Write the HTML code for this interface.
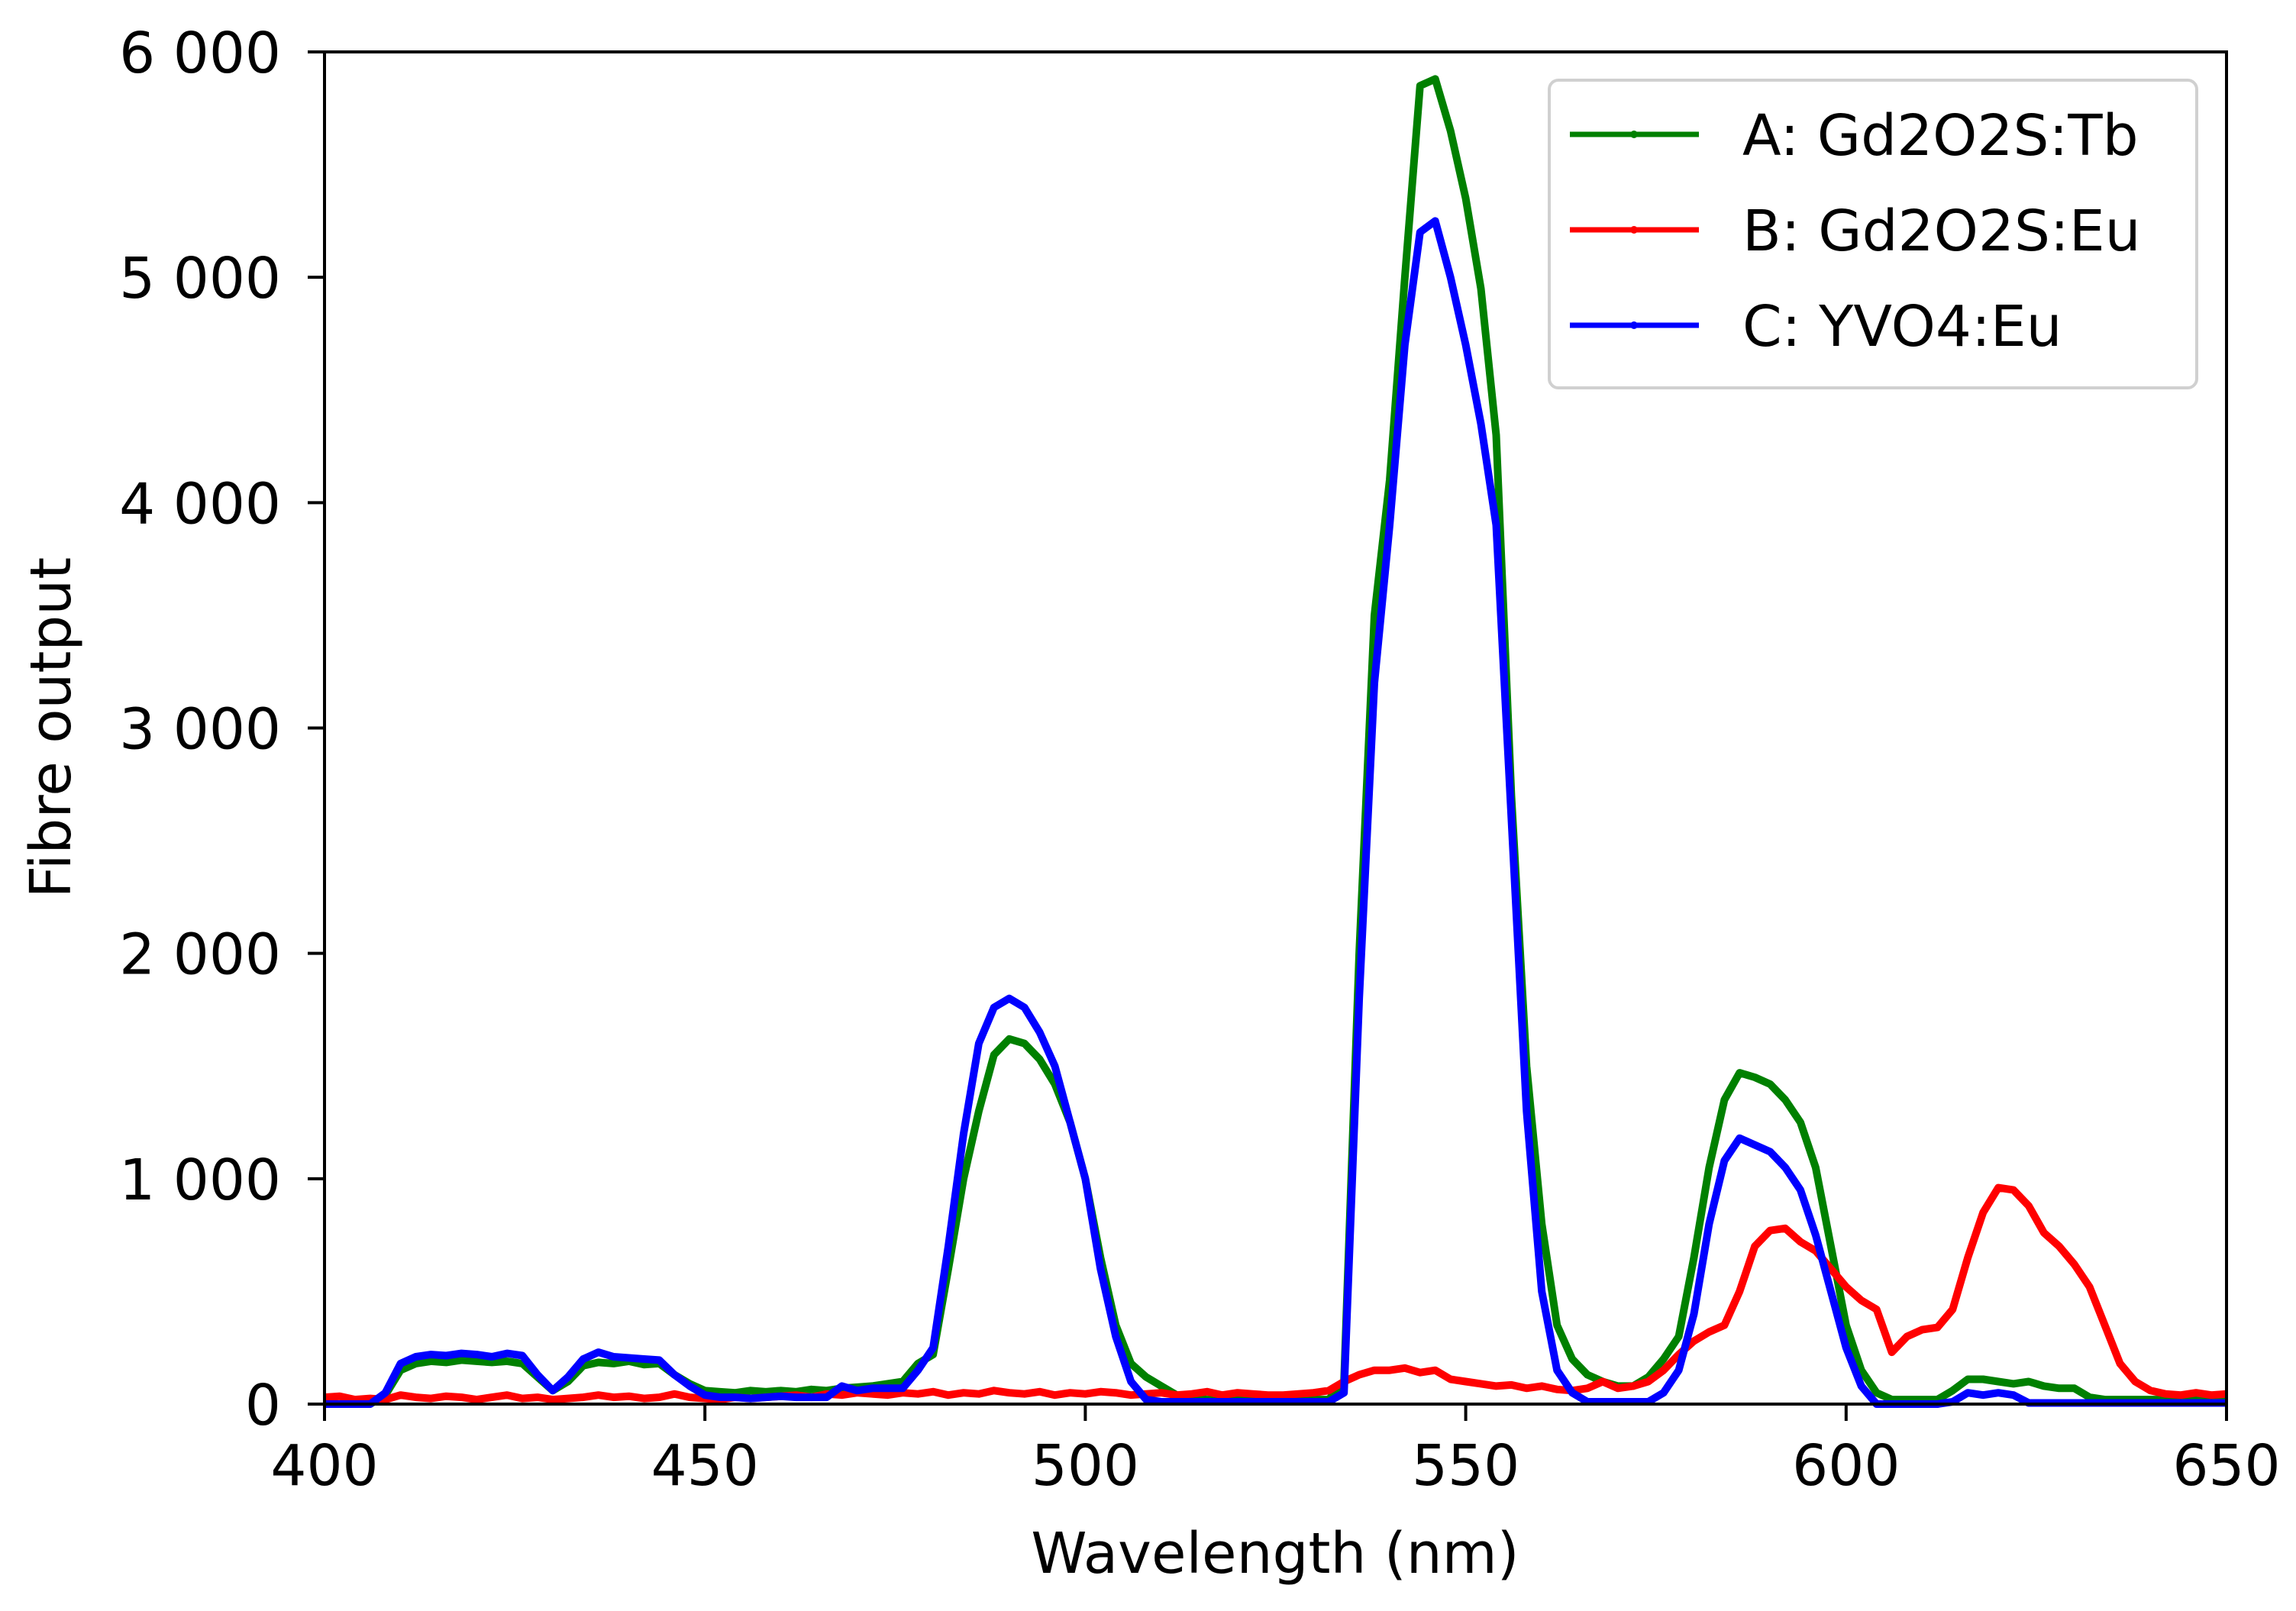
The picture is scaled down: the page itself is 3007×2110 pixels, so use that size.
<!DOCTYPE html>
<html><head><meta charset="utf-8"><style>
html,body{margin:0;padding:0;background:#fff;}
svg{display:block;font-family:"DejaVu Sans","Liberation Sans",sans-serif;}
</style></head><body>
<svg id="chart" width="3007" height="2110" viewBox="0 0 3007 2110" xmlns="http://www.w3.org/2000/svg">
<rect width="3007" height="2110" fill="#fff"/>
<g id="series"></g>
<g id="axes"></g>
<text x="1670" y="2060" font-size="74" text-anchor="middle">Wavelength (nm)</text>
<text transform="translate(92,953) rotate(-90)" font-size="74" text-anchor="middle">Fibre output</text>
<g>
<rect x="2029" y="105" width="848" height="403" rx="12" fill="#fff" fill-opacity="0.8" stroke="#d0d0d0" stroke-width="4"/>
<g><line x1="2056" y1="176" x2="2225" y2="176" stroke="#008000" stroke-width="7"/><circle cx="2140" cy="176" r="5" fill="#008000"/><text x="2282" y="203" font-size="74">A: Gd2O2S:Tb</text></g>
<g><line x1="2056" y1="301" x2="2225" y2="301" stroke="#ff0000" stroke-width="7"/><circle cx="2140" cy="301" r="5" fill="#ff0000"/><text x="2282" y="328" font-size="74">B: Gd2O2S:Eu</text></g>
<g><line x1="2056" y1="426" x2="2225" y2="426" stroke="#0000ff" stroke-width="7"/><circle cx="2140" cy="426" r="5" fill="#0000ff"/><text x="2282" y="453" font-size="74">C: YVO4:Eu</text></g>
</g>
</svg>
<script>
const wavelengths = [];
for (let w = 400; w <= 650; w += 2) wavelengths.push(w);
const seriesA = [
0,0,0,0,40, 150,180,190,185,195, 190,185,190,180,120, 60,100,170,185,180,
190,175,180,130,90, 60,55,50,60,55, 60,55,65,60,70, 75,80,90,100,180,
220,600,1000,1300,1550, 1620,1600,1530,1420,1250, 1000,650,350,180,120, 80,40,25,20,20,
20,20,20,20,20, 20,20,100,2000,3500, 4100,5000,5850,5880,5650, 5350,4950,4300,2700,1500,
800,350,200,130,100, 80,80,120,200,300, 650,1050,1350,1470,1450, 1420,1350,1250,1050,700,
350,150,50,20,20, 20,20,60,110,110, 100,90,100,80,70, 70,30,20,20,20, 20,20,20,20,20, 20];
const seriesB = [
30,35,20,25,20, 40,30,25,35,30, 20,30,40,25,30, 20,25,30,40,30,
35,25,30,45,30, 25,20,30,25,30, 35,40,30,45,40, 50,45,40,50,45,
55,40,50,45,60, 50,45,55,40,50, 45,55,50,40,45, 50,40,45,55,40,
50,45,40,40,45, 50,60,100,130,150, 150,160,140,150,110, 100,90,80,85,70,
80,65,60,70,100, 70,80,100,150,220, 280,320,350,500,700, 770,780,720,680,600,
520,460,420,230,300, 330,340,420,650,850, 960,950,880,760,700, 620,520,350,180,100, 60,45,40,50,40, 45];
const seriesC = [
0,0,0,0,50, 180,210,220,215,225, 220,210,225,215,130, 60,120,200,230,210,
205,200,195,130,80, 40,30,30,25,30, 35,30,30,30,80, 60,70,70,70,150,
250,700,1200,1600,1760, 1800,1760,1650,1500,1250, 1000,600,300,100,20, 10,10,10,10,10,
10,10,10,10,10, 10,10,50,1800,3200, 3900,4700,5200,5250,5000, 4700,4350,3900,2600,1300,
500,150,50,10,10, 10,10,10,50,150, 400,800,1080,1180,1150, 1120,1050,950,750,500,
250,80,0,0,0, 0,0,10,50,40, 50,40,5,5,5, 5,5,5,5,5, 5,5,5,5,5, 5];
const seriesNames = ["A: Gd2O2S:Tb","B: Gd2O2S:Eu","C: YVO4:Eu"];
const xTicks = [400,450,500,550,600,650];
const yTicks = [0,1000,2000,3000,4000,5000,6000];
const yTickLabels = ["0","1 000","2 000","3 000","4 000","5 000","6 000"];

const NS = "http://www.w3.org/2000/svg";
const X0 = 425, X1 = 2916, Y0 = 1839, Y1 = 68;
function xs(w){ return X0 + (w - 400) / 250 * (X1 - X0); }
function ys(v){ return Y0 - v / 6000 * (Y0 - Y1); }
function mk(tag, attrs){ const e = document.createElementNS(NS, tag); for (const k in attrs) e.setAttribute(k, attrs[k]); return e; }

const sg = document.getElementById('series');
const cols = ["#008000","#ff0000","#0000ff"];
const names = ["series-a-line","series-b-line","series-c-line"];
[seriesA, seriesB, seriesC].forEach((s, i) => {
  const pts = s.map((v, j) => xs(wavelengths[j]).toFixed(1) + "," + ys(v).toFixed(1)).join(" ");
  const pl = mk('polyline', {points: pts, fill: "none", stroke: cols[i], "stroke-width": 10, "stroke-linejoin": "round"});
  
  
  sg.appendChild(pl);
});

const ag = document.getElementById('axes');
const frame = mk('rect', {x: X0, y: Y1, width: X1 - X0, height: Y0 - Y1, fill: "none", stroke: "#000", "stroke-width": 4});


ag.appendChild(frame);
xTicks.forEach(t => {
  const l = mk('line', {x1: xs(t), x2: xs(t), y1: Y0, y2: Y0 + 22, stroke: "#000", "stroke-width": 4});
  
  
  ag.appendChild(l);
  const tx = mk('text', {x: xs(t), y: 1945, "font-size": 74, "text-anchor": "middle"});
  tx.textContent = String(t);
  
  
  ag.appendChild(tx);
});
yTicks.forEach((t, i) => {
  const l = mk('line', {x1: X0 - 22, x2: X0, y1: ys(t), y2: ys(t), stroke: "#000", "stroke-width": 4});
  
  
  ag.appendChild(l);
  const tx = mk('text', {x: 368, y: ys(t) + 27, "font-size": 74, "text-anchor": "end"});
  tx.textContent = yTickLabels[i];
  
  
  ag.appendChild(tx);
});
</script>
</body></html>
